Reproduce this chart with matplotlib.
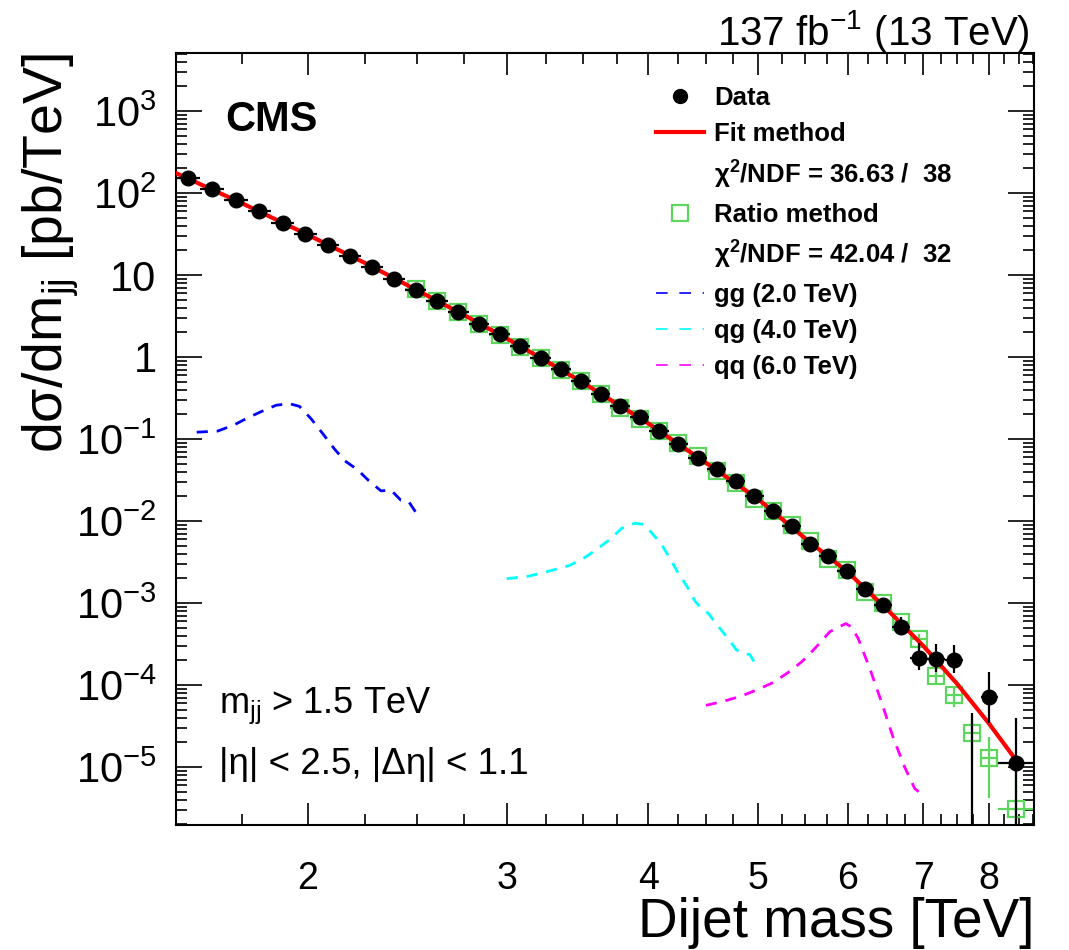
import numpy as np
import matplotlib
matplotlib.use("Agg")
import matplotlib.pyplot as plt
from matplotlib.lines import Line2D
from matplotlib.ticker import FixedLocator, FuncFormatter, LogLocator, NullFormatter

plt.rcParams['font.family'] = ['Liberation Sans', 'DejaVu Sans']
plt.rcParams['mathtext.fontset'] = 'custom'
plt.rcParams['mathtext.rm'] = 'Liberation Sans'
plt.rcParams['mathtext.it'] = 'Liberation Sans:italic'
plt.rcParams['mathtext.bf'] = 'Liberation Sans:bold'
plt.rcParams['mathtext.default'] = 'regular'

# dijet mass bins [TeV]
bin_edges = [1.530, 1.607, 1.687, 1.770, 1.856, 1.945, 2.037, 2.132, 2.231, 2.332,
             2.438, 2.546, 2.659, 2.775, 2.895, 3.019, 3.147, 3.279, 3.416, 3.558,
             3.704, 3.854, 4.010, 4.171, 4.337, 4.509, 4.686, 4.869, 5.058, 5.253,
             5.455, 5.663, 5.877, 6.099, 6.328, 6.564, 6.808, 7.060, 7.320, 7.589,
             7.866, 8.152, 8.752]

# measured cross section [pb/TeV] (nan = empty bin)
data_xsec = [152, 112, 82, 59.6, 43.6, 32.0, 23.2, 17.0, 12.4, 9.06,
             6.64, 4.82, 3.53, 2.56, 1.90, 1.36, 0.98, 0.706, 0.508, 0.358,
             0.255, 0.185, 0.126, 0.0873, 0.0593, 0.0431, 0.0307, 0.0204, 0.01315, 0.00868,
             0.00518, 0.00369, 0.00244, 0.00147, 0.00095, 5.05e-4, 2.14e-4, 2.07e-4, 2.0e-4, np.nan,
             7.07e-5, 1.11e-5]
data_err_up = [0] * 30 + [3.2e-4, 2.6e-4, 2.2e-4, 1.6e-4, 1.3e-4, 1.75e-4, 1.1e-4, 1.1e-4, 1.1e-4, 4.5e-5,
                          7.4e-5, 2.8e-5]
data_err_dn = [0] * 30 + [3.0e-4, 2.4e-4, 2.0e-4, 1.5e-4, 1.2e-4, 0.98e-4, 0.62e-4, 0.62e-4, 0.62e-4, 0,
                          3.6e-5, 1.109e-5]

# ratio method, starts at bin 10
ratio_first_bin = 10
ratio_xsec = [6.70, 4.88, 3.53, 2.56, 1.88, 1.34, 0.97, 0.70, 0.503, 0.352,
              0.241, 0.177, 0.125, 0.089, 0.0628, 0.0411, 0.0287, 0.0188, 0.0133, 0.00885,
              0.00569, 0.00345, 0.00255, 0.00135, 0.000995, 0.000582, 0.000363, 0.000129, 7.48e-5, 2.58e-5,
              1.27e-5, 3.1e-6]
ratio_err_up = [0] * 25 + [0.6e-4, 0.6e-4, 0.3e-4, 2.1e-5, 1.4e-5, 1.07e-5, 1.0e-5]
ratio_err_dn = [0] * 25 + [0.6e-4, 0.6e-4, 0.3e-4, 2.1e-5, 1.4e-5, 0.85e-5, 3.09e-6]

# fit method curve
fit_mass = [1.53, 1.75, 2.0, 2.25, 2.5, 2.75, 3.0, 3.25, 3.5, 3.75,
            4.0, 4.5, 5.0, 5.5, 6.0, 6.5, 7.0, 7.5, 8.0, 8.47]
fit_xsec = [175, 75, 31, 13.9, 6.5, 3.25, 1.68, 0.89, 0.49, 0.27,
            0.155, 0.051, 0.0186, 0.0062, 0.0024, 8.4e-4, 3.0e-4, 1.03e-4, 3.4e-5, 1.17e-5]

# resonance shapes
gg_mass = [1.596, 1.666, 1.723, 1.776, 1.831, 1.876, 1.927, 1.967, 2.014, 2.069,
           2.112, 2.156, 2.214, 2.265, 2.322, 2.370, 2.418, 2.457, 2.494]
gg_xsec = [0.121, 0.125, 0.149, 0.185, 0.224, 0.258, 0.270, 0.250, 0.177, 0.110,
           0.0757, 0.0545, 0.0422, 0.031, 0.0233, 0.0238, 0.0179, 0.0172, 0.0126]
qg_mass = [2.999, 3.124, 3.242, 3.410, 3.504, 3.601, 3.700, 3.789, 3.893, 3.960,
           4.027, 4.110, 4.186, 4.251, 4.329, 4.398, 4.459, 4.519, 4.597, 4.691,
           4.787, 4.853, 4.918, 5.003]
qg_xsec = [0.00198, 0.00210, 0.00237, 0.00288, 0.00348, 0.0045, 0.00596, 0.00813, 0.00937, 0.0091,
           0.0072, 0.00517, 0.00339, 0.00232, 0.00159, 0.00106, 0.00085, 0.00075, 0.00055, 0.000388,
           0.000267, 0.000242, 0.000235, 0.000158]
qq_mass = [4.498, 4.659, 4.836, 5.003, 5.157, 5.318, 5.465, 5.615, 5.788, 5.886,
           5.979, 6.049, 6.131, 6.279, 6.430, 6.583, 6.742, 6.880, 6.997]
qq_xsec = [5.64e-5, 6.31e-5, 7.33e-5, 8.85e-5, 1.07e-4, 1.42e-4, 1.91e-4, 2.79e-4, 4.46e-4, 5.05e-4,
           5.6e-4, 5.1e-4, 3.7e-4, 1.58e-4, 6.18e-5, 2.3e-5, 9.86e-6, 5.45e-6, 4.5e-6]

fit_chi2, fit_ndf = 36.63, 38
ratio_chi2, ratio_ndf = 42.04, 32

green = '#5cd65c'

edges = np.array(bin_edges)
centers = 0.5 * (edges[:-1] + edges[1:])
xlo = centers - edges[:-1]
xhi = edges[1:] - centers
data = np.array(data_xsec)

fig = plt.figure(figsize=(10.69, 9.5), dpi=100)
ax = fig.add_axes([0.1646, 0.1316, 0.8027, 0.8126])

# ratio method points
r = slice(ratio_first_bin, None)
ax.errorbar(centers[r], ratio_xsec, xerr=[xlo[r], xhi[r]], yerr=[ratio_err_dn, ratio_err_up],
            fmt='s', ms=11.5, mfc='none', mec=green, mew=1.6, ecolor=green, elinewidth=1.6,
            capsize=0, zorder=2)

# fit
ax.plot(fit_mass, fit_xsec, color='red', lw=3, zorder=3)

# signals
dash = (0, (4, 3.2))
ax.plot(gg_mass, gg_xsec, color='#0000ff', ls=dash, lw=2, zorder=1)
ax.plot(qg_mass, qg_xsec, color='#00ffff', ls=dash, lw=2, zorder=1)
ax.plot(qq_mass, qq_xsec, color='#ff00ff', ls=dash, lw=2, zorder=1)

# data
ok = ~np.isnan(data)
ax.errorbar(centers[ok], data[ok], xerr=[xlo[ok], xhi[ok]],
            yerr=[np.array(data_err_dn)[ok], np.array(data_err_up)[ok]],
            fmt='o', ms=10.5, color='black', elinewidth=1.6, capsize=0, zorder=5)
for i in np.where(~ok)[0]:
    ax.vlines(centers[i], 1e-9, data_err_up[i], color='black', lw=1.6, zorder=5)

ax.set_xscale('log')
ax.set_yscale('log')
ax.set_xlim(1.53, 8.77)
ax.set_ylim(1.96e-6, 5.1e3)

ax.xaxis.set_major_locator(FixedLocator([2, 3, 4, 5, 6, 7, 8]))
ax.xaxis.set_minor_locator(FixedLocator(np.arange(1.75, 8.8, 0.25)))
ax.xaxis.set_major_formatter(FuncFormatter(lambda v, p: f"{v:g}"))
ax.xaxis.set_minor_formatter(NullFormatter())


def ylab(v, p):
    n = int(round(np.log10(v)))
    if n == 0:
        return "1"
    if n == 1:
        return "10"
    return "$10^{%d}$" % n


ax.yaxis.set_major_locator(FixedLocator([1e-5, 1e-4, 1e-3, 1e-2, 1e-1, 1, 10, 1e2, 1e3]))
ax.yaxis.set_minor_locator(LogLocator(base=10, subs=np.arange(2, 10), numticks=20))
ax.yaxis.set_major_formatter(FuncFormatter(ylab))
ax.yaxis.set_minor_formatter(NullFormatter())

ax.tick_params(which='both', direction='in', top=True, right=True, width=1.2)
ax.tick_params(axis='x', which='major', length=15.5, pad=26, labelsize=27)
ax.tick_params(axis='x', which='minor', length=7.7)
ax.tick_params(axis='y', which='major', length=18.5, pad=14, labelsize=30)
ax.tick_params(axis='y', which='minor', length=8)
for s in ax.spines.values():
    s.set_linewidth(1.5)

ax.set_xlabel('Dijet mass [TeV]', fontsize=39.5, loc='right', labelpad=0)
ax.set_ylabel('dσ/dm$_{jj}$ [pb/TeV]', fontsize=40, loc='top', labelpad=-4)

ax.text(0.057, 0.899, 'CMS', transform=ax.transAxes, fontsize=30, fontweight='bold')
ax.text(0.995, 1.01, '137 fb$^{-1}$ (13 TeV)', transform=ax.transAxes, fontsize=29,
        ha='right', va='baseline')
ax.text(0.050, 0.145, 'm$_{jj}$ > 1.5 TeV', transform=ax.transAxes, fontsize=26)
ax.text(0.050, 0.066, '|η| < 2.5, |Δη| < 1.1', transform=ax.transAxes, fontsize=26.5)

handles = [
    Line2D([], [], ls='none', marker='o', color='black', ms=10),
    Line2D([], [], color='red', lw=3),
    Line2D([], [], ls='none'),
    Line2D([], [], ls='none', marker='s', ms=11.5, mfc='none', mec=green, mew=1.6),
    Line2D([], [], ls='none'),
    Line2D([], [], color='#0000ff', lw=1.2, ls=(0, (7, 7))),
    Line2D([], [], color='#00ffff', lw=1.2, ls=(0, (7, 7))),
    Line2D([], [], color='#ff00ff', lw=1.2, ls=(0, (7, 7))),
]
labels = [
    'Data',
    'Fit method',
    'χ$^{2}$/NDF = %.2f /  %d' % (fit_chi2, fit_ndf),
    'Ratio method',
    'χ$^{2}$/NDF = %.2f /  %d' % (ratio_chi2, ratio_ndf),
    'gg (2.0 TeV)',
    'qg (4.0 TeV)',
    'qq (6.0 TeV)',
]
ax.legend(handles, labels, loc='upper left', bbox_to_anchor=(0.559, 0.957), frameon=False,
          prop={'family': 'Liberation Sans', 'weight': 'bold', 'size': 18.5},
          handlelength=1.87, handletextpad=0.4, labelspacing=0.47, borderpad=0, borderaxespad=0)

fig.savefig('out.png', dpi=100)
